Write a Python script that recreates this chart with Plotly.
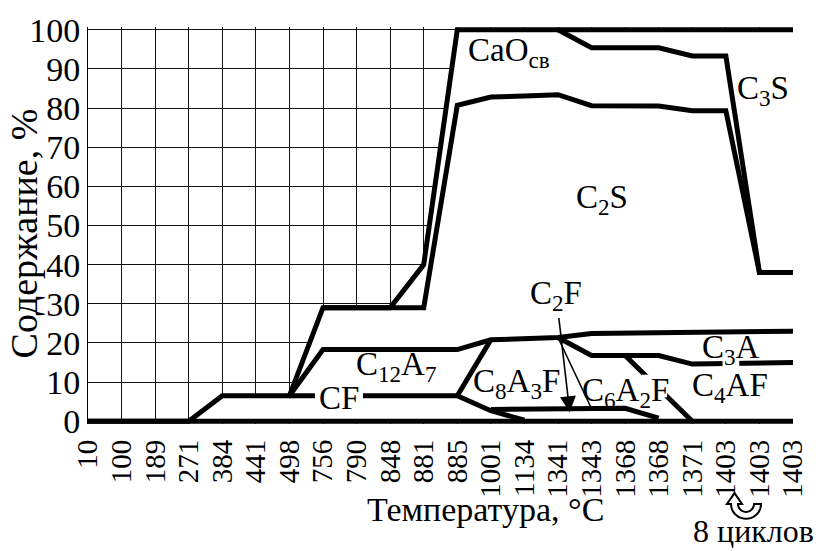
import math
import plotly.graph_objects as go

# Firing temperatures (°C), one column per sampling point
temps = ["10", "100", "189", "271", "384", "441", "498", "756", "790", "848", "881",
         "885", "1001", "1134", "1341", "1343", "1368", "1368", "1371", "1403", "1403", "1403"]
idx = list(range(len(temps)))
N = None

# Cumulative phase content boundaries, %
baseline = [0, 0, 0, 0, 0, 0, 0, 0, 0, 0, 0, 0, 0, 0, 0, 0, 0, 0, 0, 0, 0, 0]
total = [0, 0, 0, 0, 6.5, 6.5, 6.5, 29, 29, 29, 40, 100, 100, 100, 100, 100, 100, 100, 100, 100, 100, 100]
cf_top = [N] * 6 + [6.5, 6.5, 6.5, 6.5, 6.5, 6.5] + [N] * 10
c12a7_top = [N] * 6 + [6.5, 18.3, 18.3, 18.3, 18.3, 18.3, 20.8, 21.1, 21.4, 22.4, 22.5, 22.6, 22.7, 22.8, 22.9, 23.0]
c2s_top = [N] * 7 + [29, 29, 29, 29, 80.7, 82.8, 83.1, 83.4, 80.6, 80.6, 80.5, 79.3, 79.3, 38, 38]
c3s_bottom = [N] * 14 + [100, 95.4, 95.4, 95.4, 93.3, 93.3, 38, 38]
c8a3f_left = [N] * 11 + [6.5, 20.8] + [N] * 9
c8a3f_bottom = [N] * 11 + [6.5, 2.7, 0.3] + [N] * 8
c2f_top = [N] * 12 + [3.0, 3.1, 3.2, 3.2, 3.3, 0.8] + [N] * 4
c4af_top = [N] * 14 + [21.4, 16.8, 16.8, 16.8, 14.6, 14.8, 14.9, 15.0]
c6a2f_edge = [N] * 16 + [16.8, 8.2, 0.0] + [N] * 3
c6a2f_left = [N] * 14 + [21.4, 3.2] + [N] * 6

FONT = "Liberation Serif, Times New Roman, serif"
W, H = 824, 551
ML, MR, MT, MB = 88, 31, 22, 127
PW, PH = W - ML - MR, H - MT - MB


def paper(px, py):
    return (px - ML) / PW, (H - MB - py) / PH


fig = go.Figure()

# white area under the total curve hides the grid
fig.add_trace(go.Scatter(x=idx, y=total, mode="lines", line=dict(width=0, color="white"),
                         fill="tozeroy", fillcolor="white", hoverinfo="skip"))

thick = [baseline, total, cf_top, c12a7_top, c2s_top, c3s_bottom, c8a3f_left,
         c8a3f_bottom, c2f_top, c4af_top, c6a2f_edge]
for series in thick:
    fig.add_trace(go.Scatter(x=idx, y=series, mode="lines", connectgaps=False,
                             line=dict(color="black", width=5)))
fig.add_trace(go.Scatter(x=idx, y=c6a2f_left, mode="lines", connectgaps=False,
                         line=dict(color="black", width=1.6)))

# phase labels
labels = [
    ("CaO<sub>св</sub>", 12.55, 94.2),
    ("C<sub>3</sub>S", 20.1, 84.6),
    ("C<sub>2</sub>S", 15.3, 56.6),
    ("C<sub>12</sub>A<sub>7</sub>", 9.2, 14.0),
    ("C<sub>8</sub>A<sub>3</sub>F", 12.76, 9.6),
    ("C<sub>6</sub>A<sub>2</sub>F", 16.0, 7.3),
    ("C<sub>3</sub>A", 19.16, 18.4),
    ("C<sub>4</sub>AF", 19.13, 8.6),
    ("CF", 7.48, 6.0),
]
for text, x, y in labels:
    fig.add_annotation(x=x, y=y, text=text, showarrow=False, xanchor="center",
                       yanchor="middle", font=dict(family=FONT, size=33, color="black"))

# C2F pointer
fig.add_annotation(x=14.35, y=2.3, ax=13.95, ay=32.0, axref="x", ayref="y",
                   text="C<sub>2</sub>F", showarrow=True, arrowhead=2, arrowsize=2,
                   arrowwidth=1.6, arrowcolor="black", xanchor="center", yanchor="middle",
                   font=dict(family=FONT, size=33, color="black"))

# white gaps in lines behind labels
masks = [(6.76, 8.19, 5.0, 8.0), (16.5, 17.25, 6.1, 11.9), (18.9, 19.4, 13.9, 16.3)]
for x0, x1, y0, y1 in masks:
    fig.add_shape(type="rect", xref="x", yref="y", x0=x0, x1=x1, y0=y0, y1=y1,
                  fillcolor="white", line=dict(width=0), layer="above")

# axis titles and cycle note
for text, px, py, ang, size in [("Содержание, %", 24, 231, -90, 38),
                                ("Температура, °C", 485, 511, 0, 34),
                                ("8 циклов", 753, 532, 0, 32)]:
    xp, yp = paper(px, py)
    fig.add_annotation(xref="paper", yref="paper", x=xp, y=yp, text=text, textangle=ang,
                       showarrow=False, xanchor="center", yanchor="middle",
                       font=dict(family=FONT, size=size, color="black"))

# U-turn arrow icon above the cycle note
cx, cy, ro, ri = 746, 505, 15, 8
pts = []
for k in range(0, 19):
    t = math.radians(10 * k)
    pts.append((cx + ro * math.cos(t), cy + ro * math.sin(t)))
pts += [(cx - ro - 4, cy), (cx - (ro + ri) / 2, cy - 11), (cx - ri + 4, cy)]
for k in range(18, -1, -1):
    t = math.radians(10 * k)
    pts.append((cx + ri * math.cos(t), cy + ri * math.sin(t)))
path = "M " + " L ".join("%.5f,%.5f" % paper(px, py) for px, py in pts) + " Z"
fig.add_shape(type="path", xref="paper", yref="paper", path=path,
              fillcolor="white", line=dict(color="black", width=2))

fig.update_layout(
    width=W, height=H, margin=dict(l=ML, r=MR, t=MT, b=MB),
    paper_bgcolor="white", plot_bgcolor="white", showlegend=False,
    font=dict(family=FONT, color="black"),
    xaxis=dict(range=[0, 21], tickmode="array", tickvals=idx, ticktext=temps,
               tickangle=-90, showgrid=True, gridcolor="#111", gridwidth=1,
               zeroline=False, showline=False, ticks="", ticklabelstandoff=9,
               tickfont=dict(family=FONT, size=29, color="black")),
    yaxis=dict(range=[-0.7, 100.7], tickmode="array", tickvals=list(range(0, 101, 10)),
               showgrid=True, gridcolor="#111", gridwidth=1, zeroline=False,
               showline=True, linecolor="black", linewidth=1, ticks="",
               tickfont=dict(family=FONT, size=34, color="black")),
    yaxis2=dict(range=[-0.7, 100.7], overlaying="y", side="right", showline=True,
                linecolor="black", linewidth=5, showgrid=False, zeroline=False,
                showticklabels=False, ticks=""),
)

fig.write_html("out.html")
